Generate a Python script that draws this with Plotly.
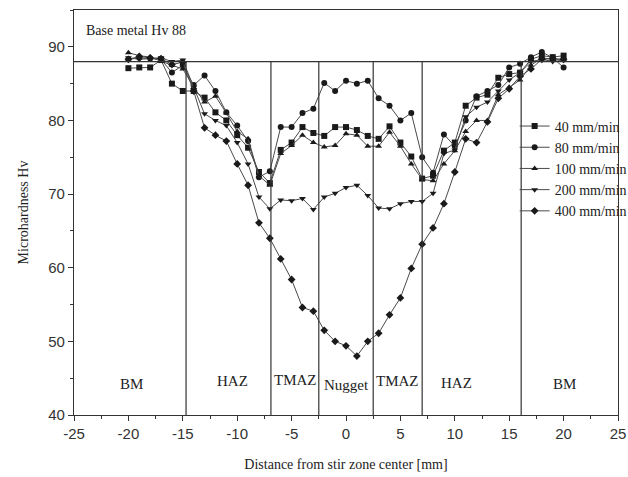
import plotly.graph_objects as go

# Distance from the stir zone centre [mm]
distance = list(range(-20, 21))

# Microhardness (Hv) for each traverse speed
hv_40 = [87.1, 87.2, 87.2, 88.2, 85.0, 84.0, 84.0, 83.1, 81.1, 80.0,
         78.0, 76.3, 73.0, 71.5, 76.0, 77.0, 79.1, 78.3, 77.9, 79.1,
         79.1, 78.7, 77.9, 77.5, 79.2, 77.0, 75.1, 72.1, 72.5, 75.9,
         77.0, 82.0, 83.1, 83.5, 85.8, 86.3, 86.5, 88.3, 88.8, 88.6, 88.8]
hv_80 = [88.3, 88.5, 88.4, 88.3, 86.5, 87.5, 84.8, 86.1, 84.0, 81.1,
         79.3, 77.2, 72.3, 73.1, 79.1, 79.1, 81.0, 81.6, 85.1, 84.0,
         85.4, 85.0, 85.4, 83.0, 82.0, 80.0, 81.0, 75.0, 72.9, 78.1,
         76.5, 80.0, 83.3, 84.0, 84.8, 87.2, 87.7, 88.6, 89.3, 88.5, 87.2]
hv_100 = [89.2, 88.8, 88.6, 88.0, 87.5, 87.0, 84.5, 82.5, 83.3, 81.0,
          78.5, 77.5, 72.5, 71.2, 75.5, 76.6, 78.0, 77.0, 76.4, 76.6,
          78.2, 78.0, 76.5, 76.5, 78.4, 76.5, 74.1, 72.0, 71.8, 74.1,
          75.9, 78.5, 80.0, 80.0, 83.5, 84.5, 85.5, 87.5, 88.5, 88.3, 88.3]
hv_200 = [88.5, 88.3, 88.4, 88.5, 88.0, 88.2, 84.5, 80.9, 80.0, 79.3,
          77.0, 74.1, 69.6, 68.0, 69.2, 69.1, 69.4, 67.9, 69.6, 70.1,
          70.9, 71.2, 69.8, 68.1, 68.0, 68.7, 69.0, 69.0, 70.1, 75.5,
          76.0, 80.5, 81.8, 82.5, 84.0, 85.5, 86.5, 88.0, 88.3, 88.0, 88.2]
hv_400 = [88.3, 88.7, 88.5, 88.4, 87.6, 87.9, 84.0, 79.0, 78.0, 77.2,
          74.1, 71.2, 66.1, 64.0, 61.2, 58.4, 54.6, 54.1, 51.5, 50.0,
          49.4, 48.0, 50.0, 51.1, 53.6, 55.9, 59.9, 63.2, 65.4, 68.7,
          73.0, 77.5, 77.0, 79.8, 83.0, 84.3, 86.0, 87.0, 88.3, 88.4, 88.3]

series_names = ["40 mm/min", "80 mm/min", "100 mm/min", "200 mm/min", "400 mm/min"]
series_values = [hv_40, hv_80, hv_100, hv_200, hv_400]
series_symbols = ["square", "circle", "triangle-up", "triangle-down", "diamond"]

# Axis ticks (plain hyphen for negatives)
x_ticks = [-25, -20, -15, -10, -5, 0, 5, 10, 15, 20, 25]
x_tick_text = ["-25", "-20", "-15", "-10", "-5", "0", "5", "10", "15", "20", "25"]
y_ticks = [40, 50, 60, 70, 80, 90]

# Weld zone boundaries and labels
base_metal_hv = 88
zone_bounds = [-14.7, -6.9, -2.5, 2.5, 7.0, 16.1]
zone_labels = ["BM", "HAZ", "TMAZ", "Nugget", "TMAZ", "HAZ", "BM"]
zone_label_x = [-19.7, -10.4, -4.6, 0.0, 4.7, 10.2, 20.1]
zone_label_y = [44.2, 44.6, 44.8, 44.1, 44.6, 44.4, 44.2]

SERIF = "Liberation Serif, Times New Roman, serif"
SANS = "Liberation Sans Narrow, Liberation Sans, Arial, sans-serif"
LINE = "#333333"

fig = go.Figure()
for name, vals, sym in zip(series_names, series_values, series_symbols):
    fig.add_trace(go.Scatter(
        x=distance, y=vals, name=name, mode="lines+markers",
        line=dict(color="#4a4a4a", width=1),
        marker=dict(symbol=sym, size=6, color="#1a1a1a",
                    line=dict(width=0)),
    ))

shapes = [dict(type="line", xref="x", yref="y", x0=-25, x1=25,
               y0=base_metal_hv, y1=base_metal_hv,
               line=dict(color=LINE, width=1.2))]
for b in zone_bounds:
    shapes.append(dict(type="line", xref="x", yref="y", x0=b, x1=b,
                       y0=40, y1=base_metal_hv,
                       line=dict(color=LINE, width=1.2)))

annotations = [dict(x=lx, y=ly, text=t, showarrow=False, xref="x", yref="y",
                    font=dict(family=SERIF, size=15, color="#222222"))
               for t, lx, ly in zip(zone_labels, zone_label_x, zone_label_y)]
annotations.append(dict(x=-24.1, y=92.2, xanchor="left", text="Base metal Hv 88",
                        showarrow=False, xref="x", yref="y",
                        font=dict(family=SERIF, size=14, color="#222222")))

fig.update_layout(
    width=628, height=477,
    margin=dict(l=74, r=10, t=10, b=62, autoexpand=False),
    paper_bgcolor="white", plot_bgcolor="white",
    shapes=shapes, annotations=annotations,
    showlegend=True,
    legend=dict(x=0.81, y=0.752, xanchor="left", yanchor="top",
                bgcolor="rgba(0,0,0,0)", borderwidth=0,
                font=dict(family=SERIF, size=14, color="#222222"),
                tracegroupgap=0, itemwidth=30),
    xaxis=dict(range=[-25, 25], tickmode="array", tickvals=x_ticks,
               ticktext=x_tick_text,
               ticks="outside", ticklen=5, tickcolor=LINE,
               minor=dict(dtick=2.5, tick0=-25, ticks="outside", ticklen=3,
                          tickcolor=LINE),
               showline=True, linecolor=LINE, linewidth=1.2, mirror=True,
               showgrid=False, zeroline=False,
               tickfont=dict(family=SANS, size=15, color="#333333"),
               title=dict(text="Distance from stir zone center [mm]",
                          font=dict(family=SERIF, size=14, color="#222222"),
                          standoff=18)),
    yaxis=dict(range=[40, 95], tickmode="array", tickvals=y_ticks,
               ticks="outside", ticklen=5, tickcolor=LINE,
               minor=dict(dtick=5, tick0=40, ticks="outside", ticklen=3,
                          tickcolor=LINE),
               showline=True, linecolor=LINE, linewidth=1.2, mirror=True,
               showgrid=False, zeroline=False,
               tickfont=dict(family=SANS, size=15, color="#333333"),
               title=dict(text="Microhardness Hv",
                          font=dict(family=SERIF, size=14, color="#222222"),
                          standoff=16)),
)

fig.write_html("out.html")
